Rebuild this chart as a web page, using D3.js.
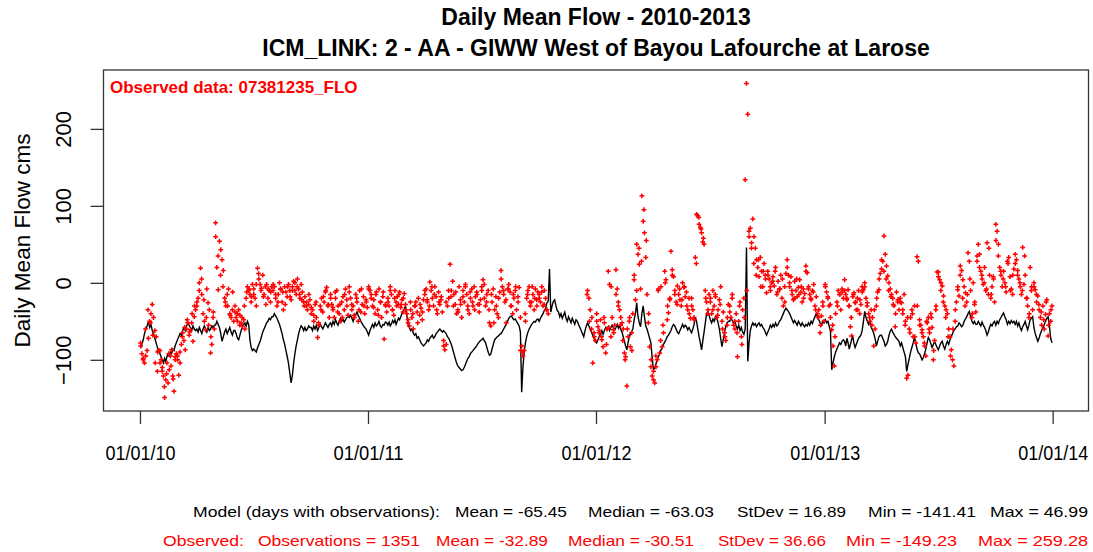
<!DOCTYPE html>
<html><head><meta charset="utf-8">
<script src="https://cdn.jsdelivr.net/npm/d3@7"></script>
<style>html,body{margin:0;padding:0;background:#fff;}svg{display:block;font-family:Arial,"Liberation Sans",sans-serif;}</style>
</head><body>
<svg id="chart" width="1093" height="552"></svg>
<script>
// ---------- DATA ----------
const titleMain = "Daily Mean Flow - 2010-2013";
const titleSub = "ICM_LINK: 2 - AA - GIWW West of Bayou Lafourche at Larose";
const obsLabel = "Observed data: 07381235_FLO";
const yLabel = "Daily Mean Flow cms";
const years = [2010, 2011, 2012, 2013];
const xTickDates = ["2010-01-01", "2011-01-01", "2012-01-01", "2013-01-01", "2014-01-01"];
const xTickLabels = ["01/01/10", "01/01/11", "01/01/12", "01/01/13", "01/01/14"];
const yTicks = [-100, 0, 100, 200];
// model: 15 values per month
const model2010 = [
 -85,-80,-74,-66,-60,-56,-50,-58,-54,-62,-66,-72,-78,-84,-88,
 -92,-96,-100,-104,-98,-102,-96,-92,-95,-90,-92,-86,-88,-82,-78,
 -74,-70,-66,-68,-62,-58,-62,-56,-52,-55,-58,-62,-56,-60,-62,
 -60,-64,-58,-62,-66,-60,-56,-60,-64,-58,-62,-60,-56,-58,-55,
 -55,-50,-54,-58,-66,-76,-70,-64,-60,-66,-62,-58,-64,-68,-62,
 -62,-66,-72,-74,-68,-62,-58,-54,-52,-56,-50,-54,-74,-84,-88,
 -86,-88,-90,-84,-80,-76,-70,-64,-60,-56,-52,-50,-46,-48,-44,
 -44,-40,-43,-46,-50,-54,-60,-66,-74,-80,-88,-96,-105,-118,-130,
 -120,-104,-92,-82,-74,-66,-60,-56,-58,-62,-58,-62,-60,-56,-58,
 -58,-62,-56,-60,-55,-62,-58,-54,-57,-60,-56,-52,-55,-58,-54,
 -52,-56,-50,-54,-48,-52,-55,-50,-46,-50,-47,-51,-48,-45,-44,
 -45,-42,-46,-50,-44,-41,-38,-43,-46,-50,-53,-56,-58,-60,-64];
const model2011 = [
 -68,-62,-58,-54,-58,-52,-56,-54,-50,-56,-58,-54,-55,-51,-52,
 -55,-51,-56,-53,-49,-52,-48,-54,-50,-46,-48,-44,-40,-37,-34,
 -30,-42,-54,-58,-62,-60,-65,-68,-66,-72,-70,-74,-78,-80,-82,
 -80,-78,-74,-76,-72,-70,-68,-72,-70,-66,-64,-62,-60,-62,-64,
 -62,-64,-66,-70,-72,-76,-80,-86,-92,-98,-104,-108,-110,-112,-114,
 -113,-110,-106,-102,-98,-96,-92,-90,-88,-86,-84,-82,-79,-77,-75,
 -74,-72,-75,-78,-84,-90,-94,-93,-86,-80,-74,-72,-70,-69,-67,
 -66,-63,-60,-57,-54,-50,-46,-44,-43,-46,-48,-47,-50,-53,-56,
 -64,-142,-110,-90,-78,-70,-64,-60,-57,-54,-52,-50,-51,-48,-47,
 -50,-46,-43,-40,-36,-33,-26,-24,18,-38,-30,-24,-22,-30,-36,
 -38,-44,-40,-46,-42,-38,-46,-50,-44,-48,-52,-46,-50,-54,-48,
 -50,-54,-58,-62,-66,-70,-62,-56,-52,-56,-60,-64,-68,-72,-76];
const model2012 = [
 -78,-74,-70,-66,-62,-67,-62,-58,-61,-57,-62,-58,-55,-59,-61,
 -58,-54,-59,-56,-61,-64,-70,-76,-82,-87,-78,-70,-66,-63,-60,
 -48,-40,-26,-44,-52,-57,-40,-30,-44,-56,-60,-66,-72,-78,-98,
 -113,-110,-105,-100,-96,-92,-87,-84,-80,-77,-74,-70,-68,-65,-62,
 -57,-54,-56,-60,-64,-66,-62,-58,-54,-58,-55,-57,-61,-58,-62,
 -65,-60,-54,-45,-50,-60,-70,-78,-87,-75,-64,-52,-40,-37,-42,
 -48,-52,-47,-50,-44,-46,-52,-60,-72,-83,-74,-64,-56,-52,-50,
 -50,-46,-49,-53,-50,-56,-60,-55,-62,-58,-64,-67,-60,46,-102,
 -78,-62,-56,-52,-55,-53,-57,-54,-52,-56,-54,-58,-60,-64,-68,
 -64,-60,-55,-58,-54,-57,-52,-56,-54,-50,-48,-44,-40,-36,-33,
 -35,-37,-40,-44,-48,-52,-49,-52,-55,-50,-53,-56,-52,-55,-57,
 -54,-56,-52,-55,-50,-53,-48,-44,-40,-44,-48,-52,-55,-50,-52];
const model2013 = [
 -48,-52,-50,-56,-62,-113,-104,-96,-90,-86,-82,-78,-80,-76,-74,
 -76,-82,-72,-78,-86,-80,-74,-70,-78,-84,-80,-76,-72,-70,-68,
 -62,-50,-37,-45,-50,-54,-50,-58,-61,-66,-72,-82,-76,-70,-68,
 -68,-72,-76,-82,-80,-76,-68,-63,-60,-64,-67,-70,-72,-74,-76,
 -82,-78,-84,-90,-96,-115,-106,-98,-90,-84,-78,-71,-78,-86,-91,
 -92,-96,-100,-97,-92,-86,-78,-71,-74,-79,-84,-80,-76,-80,-84,
 -87,-82,-78,-76,-82,-86,-80,-76,-80,-74,-70,-66,-62,-60,-57,
 -56,-52,-54,-57,-55,-50,-47,-44,-40,-37,-44,-50,-53,-50,-54,
 -54,-50,-53,-56,-51,-55,-58,-62,-68,-64,-58,-54,-56,-52,-50,
 -55,-50,-53,-48,-45,-42,-39,-44,-48,-54,-50,-53,-49,-52,-50,
 -54,-50,-56,-52,-58,-62,-57,-54,-50,-56,-61,-55,-48,-46,-44,
 -58,-66,-71,-76,-72,-66,-62,-58,-54,-50,-46,-44,-56,-72,-78];
// observed: 15 readings per month (null = no observation)
const obs2010 = [
 -78,-92,-100,-104,-95,-88,-72,-50,-40,-28,-45,-62,-70,-115,-88,
 -88,-100,-110,-121,-149,-126,-104,-130,-113,-95,-87,-121,-141,-100,-92,
 -95,-120,-104,-80,-65,-75,-87,-60,-52,-68,-61,-52,-76,-44,-35,
 -30,-20,0,19,-15,-40,-50,-61,-8,-26,-35,-91,-80,-45,-60,
 78,20,-9,54,43,30,16,-20,-30,-15,-8,-40,-45,-35,-50,
 -38,-45,-50,-35,-42,-52,-56,-48,-60,-20,-5,-10,-15,-25,-2,
 -8,-20,-30,19,5,-2,-7,10,-15,-5,-2,-20,-10,-25,-5,
 -10,-5,-20,-30,-15,0,-8,-25,-35,-5,-12,-18,-2,-10,-22,
 -5,2,-10,-15,5,-8,-20,-2,-12,-25,-18,-30,-35,-28,-22,
 -40,-35,-50,-28,-45,-71,-55,-30,-20,-38,-25,-12,-6,-30,-45,
 -15,-28,-35,-45,-20,-10,-30,-40,-50,-25,-18,-35,-8,-22,-42,
 -5,-20,-35,-30,-45,-15,-25,-50,-10,-38,-28,-18,-40,-22,-32];
const obs2011 = [
 -5,-10,-15,-30,-22,-40,-12,-35,-8,-25,-45,-18,-73,-28,-38,
 -20,-30,-5,-15,-35,-42,-10,-25,-18,-28,-12,-32,-22,-38,-14,
 -28,-40,-52,-56,-35,-45,-60,-30,-25,-38,-20,-42,-33,-48,-22,
 -15,-8,-25,-35,1,-10,-20,-30,-5,-18,-40,-12,-28,-22,-38,
 -75,-87,-80,-30,-20,24,-10,2,-15,-28,-40,-35,-5,-22,-45,
 -10,-25,-2,-15,-35,-40,-20,-8,-30,-5,-18,-12,-28,-38,-22,
 -5,4,-20,-30,-15,-10,-52,-56,-25,-8,-35,-18,-40,-45,-12,
 16,-5,-15,-25,-52,-8,-2,-12,-30,-40,-20,-10,-35,-18,-6,
 -45,-82,-95,-88,-50,-20,-10,-5,-30,-25,-15,-35,-8,-22,-12,
 -15,-25,-5,-30,-10,-20,-35,-40,null,null,null,null,null,null,null,
 null,null,null,null,null,null,null,null,null,null,null,null,null,null,null,
 null,null,null,null,null,null,null,null,-10,-20,-35,-60,-104,-65,-75];
const obs2012 = [
 -40,-57,-65,-48,-74,-83,-52,-91,-60,15,-2,-70,-45,-61,-55,
 17,-8,-25,-35,-45,-52,-60,-91,-96,-134,-70,-50,-83,-65,-40,
 4,-22,50,37,24,-8,113,80,65,33,-15,-52,-83,-109,-121,
 -126,-130,-109,-100,-8,-91,-5,-83,-65,15,4,-48,-39,-22,41,
 17,8,-10,-25,-4,-15,-22,-30,0,-6,-18,-12,-35,-20,-46,
 -20,-35,-48,33,89,87,76,72,65,53,50,-10,-25,-40,-15,
 -25,-40,-10,-30,-18,-45,-35,-22,-5,-50,-38,-65,-75,-55,-28,
 -30,-45,-15,-55,-60,-40,-96,-50,-25,-70,-35,-20,134,259,219,
 67,71,52,83,60,45,30,20,8,33,15,-5,25,10,-13,
 15,5,-10,0,8,-4,20,-15,2,-8,10,-20,-30,-5,12,
 30,10,-5,8,-15,-22,2,-10,-18,-6,4,-12,-25,-8,-14,
 22,13,-5,-15,-22,-10,-2,-30,-18,-40,-35,-65,-43,-25,-50];
const obs2013 = [
 -2,-12,-20,-30,-45,-61,-82,-108,-40,-25,-10,-15,-35,-8,-20,
 4,-15,-22,-9,-30,-57,-69,-18,-13,-26,-35,-20,-10,-40,-28,
 -5,-9,0,-20,-26,-40,-50,-35,-45,-82,-60,-30,-12,-9,12,
 18,28,61,37,22,9,0,-8,-15,-20,-30,-57,-12,-25,-35,
 -20,-26,-40,-15,-50,-124,-120,-60,-45,-35,-70,-30,-78,34,28,
 -48,-55,-61,-70,-82,-95,-52,-45,-65,-40,-58,-100,-75,-35,14,
 14,4,0,-4,-17,-30,-35,-40,-60,-70,-87,-100,-108,-50,-25,
 -9,-17,22,16,4,-5,-13,-25,39,28,-10,-45,0,-28,-38,
 28,50,37,15,5,-2,20,-10,52,-15,10,-20,-5,8,-25,
 76,67,50,20,10,-5,15,0,-12,28,33,8,-8,-15,18,
 37,30,16,5,-5,-15,46,-2,10,-20,-30,-45,20,-10,-35,
 0,-9,-25,-17,-35,-45,-55,-30,-60,-41,-22,-69,-40,-50,-30];
// further observed readings: 8 per month
const obsB2010 = [
 -82,-98,-60,-35,-52,-68,-104,-90,
 -104,-115,-135,-118,-92,-108,-125,-96,
 -100,-90,-70,-58,-48,-64,-40,-30,
 -25,-10,5,-22,-45,-55,-70,-38,
 60,35,10,-5,-25,-30,-42,-12,
 -30,-40,-55,-45,-30,-12,-8,-18,
 -15,-2,12,-10,-18,-28,-8,-12,
 -2,-15,-25,-8,-12,-28,-5,-18,
 -10,0,-5,-15,-22,-30,-25,-15,
 -32,-42,-25,-52,-35,-18,-10,-28,
 -20,-32,-12,-38,-28,-45,-15,-30,
 -12,-28,-42,-20,-35,-8,-30,-25];
const obsB2011 = [
 -8,-20,-32,-15,-42,-25,-12,-30,
 -25,-10,-35,-20,-30,-15,-28,-20,
 -35,-48,-25,-40,-30,-52,-28,-38,
 -10,-22,-30,-5,-15,-35,-25,-18,
 -82,-25,-10,-18,-30,-12,-38,-28,
 -18,-5,-30,-12,-25,-35,-15,-28,
 -10,-2,-25,-35,-15,-52,-30,-20,
 5,-10,-22,-8,-30,-15,-5,-25,
 -88,-90,-40,-15,-25,-5,-20,-30,
 -20,-12,-28,-35,null,null,null,null,
 null,null,null,null,null,null,null,null,
 null,null,null,null,-15,-50,-45,-70];
const obsB2012 = [
 -50,-62,-70,-45,-80,-58,-5,-65,
 -15,-30,-55,-75,-100,-60,-45,-88,
 10,-10,45,28,95,55,-40,-100,
 -115,-95,-10,-75,-55,0,-30,-20,
 10,-15,-28,-8,-22,-5,-30,-40,
 -30,-45,25,85,70,58,-20,-35,
 -20,-35,-15,-42,-28,-60,-70,-45,
 -38,-20,-50,-65,-30,-80,-45,-10,
 60,45,25,10,30,-5,15,5,
 10,-5,2,15,-12,-8,5,-25,
 20,0,-10,-20,5,-15,-5,-20,
 15,-8,-20,-12,-35,-45,-55,-30];
const obsB2013 = [
 -5,-18,-28,-55,-70,-30,-15,-12,
 -10,-20,-30,-45,-15,-25,-35,-22,
 -12,-5,-30,-45,-55,-35,-20,5,
 30,15,5,-10,-18,-28,-40,-22,
 -25,-35,-55,-45,-65,-40,-70,-30,
 -55,-65,-78,-50,-60,-45,-88,-30,
 8,-10,-25,-45,-70,-95,-60,-35,
 -5,10,-20,-30,-15,5,-40,-25,
 35,20,10,0,-8,45,-15,5,
 55,35,15,5,-5,25,-10,10,
 25,10,0,-10,35,-20,-40,-5,
 -5,-15,-28,-38,-48,-25,-55,-35];
const modelStatsLabels = ["Model (days with observations):", "Mean = -65.45", "Median = -63.03", "StDev = 16.89", "Min = -141.41", "Max = 46.99"];
const obsStatsLabels = ["Observed:", "Observations = 1351", "Mean = -32.89", "Median = -30.51", "StDev = 36.66", "Min = -149.23", "Max = 259.28"];

// ---------- LAYOUT ----------
const svg = d3.select("#chart");
const L = 103.5, R = 1088.5, T = 70, B = 411;
const start = Date.UTC(2010,0,1), end = Date.UTC(2013,11,31);
const pad = (end - start) * 0.04;
const x = d3.scaleUtc().domain([new Date(start - pad), new Date(end + pad)]).range([L, R]);
const y = d3.scaleLinear().domain([-166.5, 276.5]).range([B, T]);

function expand(values, year, perMonth, offset) {
  const out = [];
  values.forEach((v, i) => {
    const m = Math.floor(i / perMonth), k = i % perMonth;
    const m0 = Date.UTC(year, m, 1), m1 = Date.UTC(year, m + 1, 1);
    const t = m0 + (k + offset) / perMonth * (m1 - m0);
    out.push({date: new Date(t), value: v});
  });
  return out;
}
const modelSeries = [model2010, model2011, model2012, model2013].flatMap((a, i) => expand(a, years[i], 15, 0.5));
const obsSeries = [obs2010, obs2011, obs2012, obs2013].flatMap((a, i) => expand(a, years[i], 15, 0.5))
  .concat([obsB2010, obsB2011, obsB2012, obsB2013].flatMap((a, i) => expand(a, years[i], 8, 0.3)))
  .filter(d => d.value !== null);

// titles
svg.append("text").attr("x", (L+R)/2).attr("y", 25).attr("text-anchor","middle")
  .attr("font-weight","bold").attr("font-size",23).text(titleMain);
svg.append("text").attr("x", (L+R)/2).attr("y", 56).attr("text-anchor","middle")
  .attr("font-weight","bold").attr("font-size",23).text(titleSub);

// clip
svg.append("clipPath").attr("id","clip").append("rect").attr("x",L).attr("y",T).attr("width",R-L).attr("height",B-T);
const plot = svg.append("g").attr("clip-path","url(#clip)");

// model line
plot.append("path").datum(modelSeries)
  .attr("fill","none").attr("stroke","#000").attr("stroke-width",1.4).attr("stroke-linejoin","miter")
  .attr("d", d3.line().x(d => x(d.date)).y(d => y(d.value)));

// observed points (pch = 3)
plot.selectAll("path.obs").data(obsSeries).join("path").attr("class","obs")
  .attr("transform", d => `translate(${x(d.date)},${y(d.value)})`)
  .attr("d","M-2.4,0H2.4M0,-2.4V2.4").attr("stroke","#ff0000").attr("stroke-width",1.5).attr("fill","none");

// box
svg.append("rect").attr("x",L).attr("y",T).attr("width",R-L).attr("height",B-T)
  .attr("fill","none").attr("stroke","#333").attr("stroke-width",1.3);

// x axis
const xAxis = d3.axisBottom(x).tickValues(xTickDates.map(s => new Date(s + "T00:00:00Z")))
  .tickFormat((d,i) => xTickLabels[i]).tickSizeOuter(0).tickSize(13).tickPadding(22);
const gx = svg.append("g").attr("transform",`translate(0,${B})`).call(xAxis);
gx.select(".domain").remove();
gx.selectAll(".tick line").attr("stroke","#333").attr("stroke-width",1.3);
gx.selectAll(".tick text").attr("font-size",20).attr("fill","#000").attr("font-family","Arial, Liberation Sans, sans-serif")
  .attr("textLength",70).attr("lengthAdjust","spacingAndGlyphs");

// y axis
const yAxis = d3.axisLeft(y).tickValues(yTicks).tickSizeOuter(0).tickSize(13).tickFormat(d3.format("d"));
const gy = svg.append("g").attr("transform",`translate(${L},0)`).call(yAxis);
gy.select(".domain").remove();
gy.selectAll(".tick line").attr("stroke","#333").attr("stroke-width",1.3);
gy.selectAll(".tick text").attr("font-size",22).attr("fill","#000").attr("font-family","Arial, Liberation Sans, sans-serif")
  .attr("text-anchor","middle").attr("dy",0).attr("x",0).attr("y",0)
  .attr("transform","translate(-32.5,0) rotate(-90)");

// y label
svg.append("text").attr("transform",`translate(30,${(T+B)/2}) rotate(-90)`).attr("text-anchor","middle")
  .attr("font-size",22.5).text(yLabel);

// observed label
svg.append("text").attr("x",110).attr("y",93).attr("fill","#ff0000").attr("font-weight","bold")
  .attr("font-size",17).text(obsLabel);

// stats
const line1X = [193, 455, 588, 737, 868, 990], line1W = [247, 112, 126, 109, 108, 98];
const line2X = [163, 258, 436, 568, 718, 846, 978], line2W = [81, 162, 112, 126, 108, 111, 110];
modelStatsLabels.forEach((s,i) => svg.append("text").attr("x",line1X[i]).attr("y",517).attr("font-size",15)
  .attr("textLength",line1W[i]).attr("lengthAdjust","spacingAndGlyphs").attr("fill","#000").text(s));
obsStatsLabels.forEach((s,i) => svg.append("text").attr("x",line2X[i]).attr("y",546).attr("font-size",15)
  .attr("textLength",line2W[i]).attr("lengthAdjust","spacingAndGlyphs").attr("fill","#ff0000").text(s));
</script>
</body></html>
